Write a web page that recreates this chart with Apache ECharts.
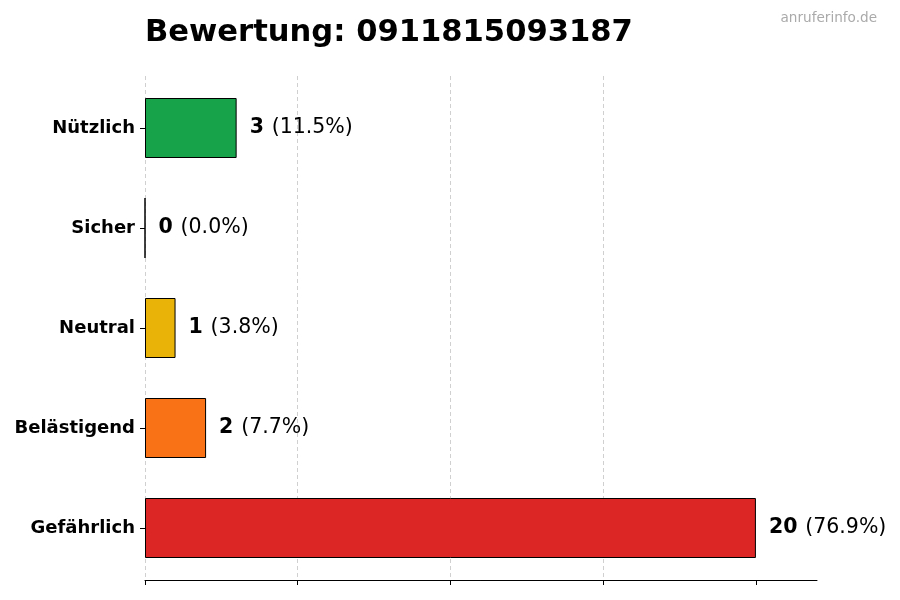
<!DOCTYPE html>
<html>
<head>
    <meta charset="utf-8">
    <title>Bewertung</title>
    <script src="https://cdn.jsdelivr.net/npm/echarts@6/dist/echarts.min.js"></script>
    <style>
        html, body { margin: 0; padding: 0; background: #fff; }
        #chart { width: 900px; height: 600px; }
    </style>
</head>
<body>
    <div id="chart"></div>
    <script>
        // Daten (von unten nach oben)
        var categories = ['Gefährlich', 'Belästigend', 'Neutral', 'Sicher', 'Nützlich'];
        var counts = [20, 2, 1, 0, 3];
        var percents = ['76.9%', '7.7%', '3.8%', '0.0%', '11.5%'];
        var colors = ['#dc2626', '#f97316', '#eab308', '#3b82f6', '#16a34a'];
        var xTicks = [0, 5, 10, 15, 20];

        var font = 'DejaVu Sans';

        var chart = echarts.init(document.getElementById('chart'));
        var option = {
            animation: false,
            textStyle: { fontFamily: font },
            title: [{
                text: 'Bewertung: 0911815093187',
                left: 140,
                top: 13,
                textStyle: { fontFamily: font, fontSize: 30.6, fontWeight: 'bold', color: '#000' }
            }, {
                text: 'anruferinfo.de',
                right: 18,
                top: 6,
                textStyle: { fontFamily: font, fontSize: 13.6, fontWeight: 'normal', color: '#aaaaaa' }
            }],
            // grid 0: Balken, grid 1: Achse und Gitterlinien
            grid: [
                { left: 145, right: 83, top: 78, bottom: 22 },
                { left: 145, right: 83, top: 76, bottom: 20 }
            ],
            xAxis: [{
                type: 'value',
                gridIndex: 0,
                min: 0,
                max: 22,
                show: false
            }, {
                type: 'value',
                gridIndex: 1,
                min: 0,
                max: 22,
                interval: 5,
                axisLine: { show: true, lineStyle: { color: '#000', width: 1 } },
                axisTick: { show: true, length: 5, customValues: xTicks, lineStyle: { color: '#000' } },
                axisLabel: { show: false },
                splitLine: { show: true, showMaxLine: false, lineStyle: { type: [4, 3], color: '#d0d0d0', width: 1 } }
            }],
            yAxis: [{
                type: 'category',
                gridIndex: 0,
                data: categories,
                axisLine: { show: false },
                axisTick: { show: true, alignWithLabel: true, length: 5, lineStyle: { color: '#000' } },
                axisLabel: { fontFamily: font, fontSize: 18, fontWeight: 'bold', color: '#000', margin: 10 },
                splitLine: { show: false }
            }, {
                type: 'value',
                gridIndex: 1,
                show: false
            }],
            series: [{
                type: 'bar',
                xAxisIndex: 0,
                yAxisIndex: 0,
                barWidth: '60%',
                data: counts.map(function (v, i) {
                    return {
                        value: v,
                        itemStyle: { color: colors[i], borderColor: '#000', borderWidth: 1 }
                    };
                }),
                label: {
                    show: true,
                    position: 'right',
                    distance: 13,
                    formatter: function (p) {
                        return '{v|' + p.value + '} {p|(' + percents[p.dataIndex] + ')}';
                    },
                    rich: {
                        v: { fontFamily: font, fontSize: 20.5, fontWeight: 'bold', color: '#000', padding: [0, 4, 0, 0] },
                        p: { fontFamily: font, fontSize: 20.5, color: '#000' }
                    }
                }
            }]
        };
        chart.setOption(option);
    </script>
</body>
</html>
